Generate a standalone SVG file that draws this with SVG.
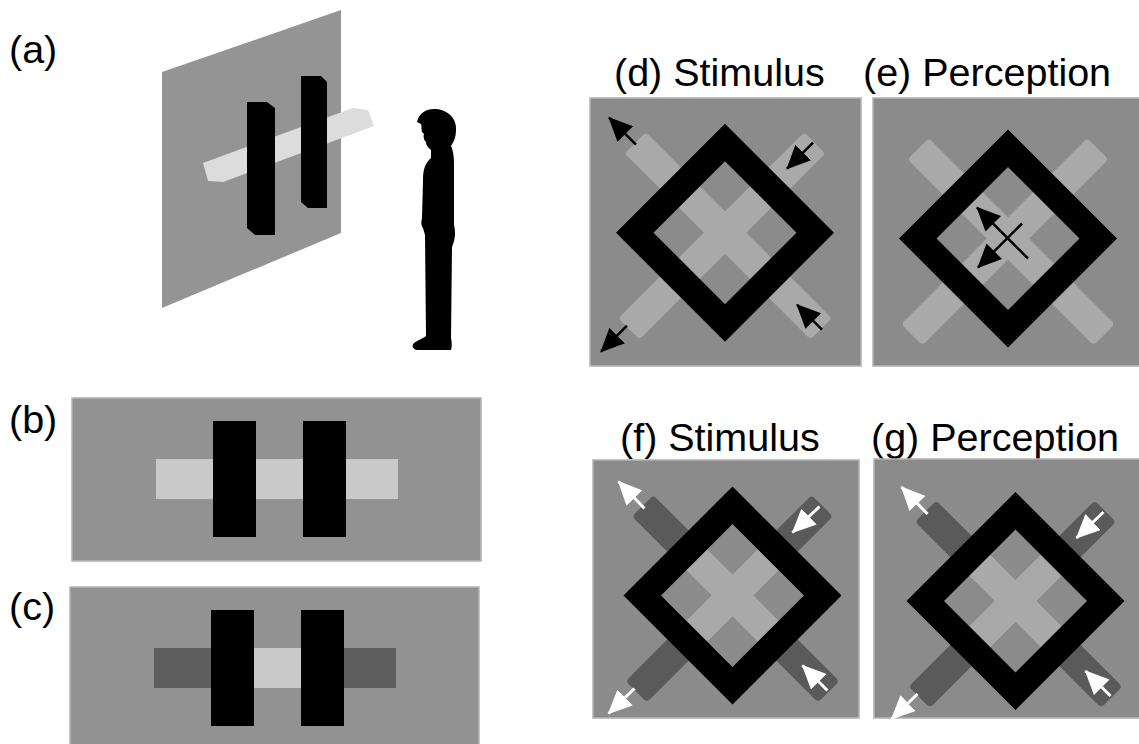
<svg xmlns="http://www.w3.org/2000/svg" width="1139" height="744" viewBox="0 0 1139 744">
  <style>
    .label { font-family: "Liberation Sans", Arial, sans-serif; font-size: 39.5px; fill: #000; }
    .frame { stroke: #b3b3b3; stroke-width: 1.5; }
    .bg-b { fill: #929292; }
    .bg-sq { fill: #8b8b8b; }
    .black { fill: #000; }
    .light { fill: #c9c9c9; }
    .dark { fill: #5e5e5e; }
    .bar-light { fill: #a9a9a9; }
    .bar-dark { fill: #5a5a5a; }
    .arrow-black { stroke: #000; stroke-width: 2.5; fill: none; marker-end: url(#headBlack); }
    .arrow-white { stroke: #fff; stroke-width: 3; fill: none; marker-end: url(#headWhite); }
  </style>
  <defs>
    <marker id="headBlack" markerUnits="userSpaceOnUse" markerWidth="26" markerHeight="22" refX="23" refY="11" orient="auto">
      <path d="M0,0 L24,11 L0,22 Z" fill="#000"/>
    </marker>
    <marker id="headWhite" markerUnits="userSpaceOnUse" markerWidth="26" markerHeight="22" refX="23" refY="11" orient="auto">
      <path d="M0,0 L24,11 L0,22 Z" fill="#fff"/>
    </marker>
    <!-- inner opening of the diamond frame, in panel-local coordinates -->
    <clipPath id="innerDiamond" clipPathUnits="userSpaceOnUse">
      <path d="M0,-72 L72,0 L0,72 L-72,0 Z"/>
    </clipPath>
    <path id="ring" d="M0,-109 L109,0 L0,109 L-109,0 Z M0,-71.5 L71.5,0 L0,71.5 L-71.5,0 Z" fill-rule="evenodd"/>
    <g id="xbars">
      <rect x="-127" y="-15" width="263" height="30" rx="4" transform="rotate(45)"/>
      <rect x="-127" y="-15" width="263" height="30" rx="4" transform="rotate(135)"/>
    </g>
  </defs>

  <!-- (a) observer in front of the slanted screen -->
  <g id="panel-a">
    <text class="label" x="9" y="63">(a)</text>
    <polygon points="162,72 341,10 341,233 162,308" fill="#949494"/>
    <polygon points="203,163 353,108 368,110 374,126 223,182 208,181" fill="#dcdcdc"/>
    <polygon class="black" points="247,102 267,102 275,108 275,235 255,235 247,228"/>
    <polygon class="black" points="301,76 321,76 327,82 327,208 308,208 301,202"/>
    <path class="black" d="M434,109 C447,109 457,118 456,130 C456,138 453,143 451,146 C453,150 454,156 454,165 L454,225 C456,232 455,240 452,247 L451,338 C452,343 452,347 451,350 L418,350 C413,350 411,346 414,343 C418,340 424,338 426,336 L425,235 L423,228 C421,226 421,222 422,218 L423,180 C423,170 425,163 431,158 L431,150 C428,148 426,145 426,142 C424,140 423,137 424,134 L422,132 C421,128 422,126 421,124 L417,122 C419,113 426,109 434,109 Z"/>
  </g>

  <!-- (b) uniform light bar behind two occluders -->
  <g id="panel-b">
    <text class="label" x="9" y="433">(b)</text>
    <rect class="bg-b frame" x="72" y="398" width="409" height="163"/>
    <rect class="light" x="156" y="459" width="242" height="40"/>
    <rect class="black" x="213" y="421" width="43" height="116"/>
    <rect class="black" x="303" y="421" width="43" height="116"/>
  </g>

  <!-- (c) dark outer segments, light centre segment -->
  <g id="panel-c">
    <text class="label" x="9" y="620">(c)</text>
    <rect class="bg-b frame" x="70" y="587" width="409" height="170"/>
    <rect class="dark" x="154" y="648" width="242" height="40"/>
    <rect class="light" x="254" y="648" width="47" height="40"/>
    <rect class="black" x="211" y="610" width="43" height="116"/>
    <rect class="black" x="301" y="610" width="43" height="116"/>
  </g>

  <!-- (d) stimulus: light cross, arrows at the bar ends -->
  <g id="panel-d">
    <text class="label" x="614" y="86">(d) Stimulus</text>
    <rect class="bg-sq frame" x="590" y="98" width="271" height="268"/>
    <g transform="translate(725,232.7)">
      <use href="#xbars" class="bar-light"/>
      <use href="#ring" class="black"/>
    </g>
  </g>

  <!-- (e) perception: light cross, rotation arrows at the centre -->
  <g id="panel-e">
    <text class="label" x="863" y="86">(e) Perception</text>
    <rect class="bg-sq frame" x="873" y="98" width="270" height="268"/>
    <g transform="translate(1008,238.5)">
      <use href="#xbars" class="bar-light"/>
      <use href="#ring" class="black"/>
    </g>
  </g>

  <!-- (f) stimulus: dark outer bars, light inside the frame -->
  <g id="panel-f">
    <text class="label" x="620" y="451">(f) Stimulus</text>
    <rect class="bg-sq frame" x="593" y="460" width="266" height="258"/>
    <g transform="translate(732.5,595.5)">
      <use href="#xbars" class="bar-dark"/>
      <g clip-path="url(#innerDiamond)">
        <use href="#xbars" class="bar-light"/>
      </g>
      <use href="#ring" class="black"/>
    </g>
  </g>

  <!-- (g) perception: same layout as (f) -->
  <g id="panel-g">
    <text class="label" x="871" y="451">(g) Perception</text>
    <rect class="bg-sq frame" x="874" y="459" width="270" height="259"/>
    <g transform="translate(1015.5,601)">
      <use href="#xbars" class="bar-dark"/>
      <g clip-path="url(#innerDiamond)">
        <use href="#xbars" class="bar-light"/>
      </g>
      <use href="#ring" class="black"/>
    </g>
  </g>

  <!-- motion arrows -->
  <g id="connectors">
    <g transform="translate(725,232.7)">
      <path class="arrow-black" d="M-89,-88 L-116,-115"/>
      <path class="arrow-black" d="M88,-90 L62,-64"/>
      <path class="arrow-black" d="M97,97 L72,72"/>
      <path class="arrow-black" d="M-98,93 L-124,119"/>
    </g>
    <g transform="translate(1008,238.5)">
      <path class="arrow-black" d="M20,20 L-31,-31"/>
      <path class="arrow-black" d="M14,-15 L-30,29"/>
    </g>
    <g transform="translate(732.5,595.5)">
      <path class="arrow-white" d="M-88,-87 L-114,-114"/>
      <path class="arrow-white" d="M87,-89 L60,-63"/>
      <path class="arrow-white" d="M95,95 L70,70"/>
      <path class="arrow-white" d="M-98,93 L-124,118"/>
    </g>
    <g transform="translate(1015.5,601)">
      <path class="arrow-white" d="M-88,-87 L-114,-114"/>
      <path class="arrow-white" d="M88,-89 L61,-63"/>
      <path class="arrow-white" d="M95,95 L70,70"/>
      <path class="arrow-white" d="M-98,93 L-124,118"/>
    </g>
  </g>
</svg>
